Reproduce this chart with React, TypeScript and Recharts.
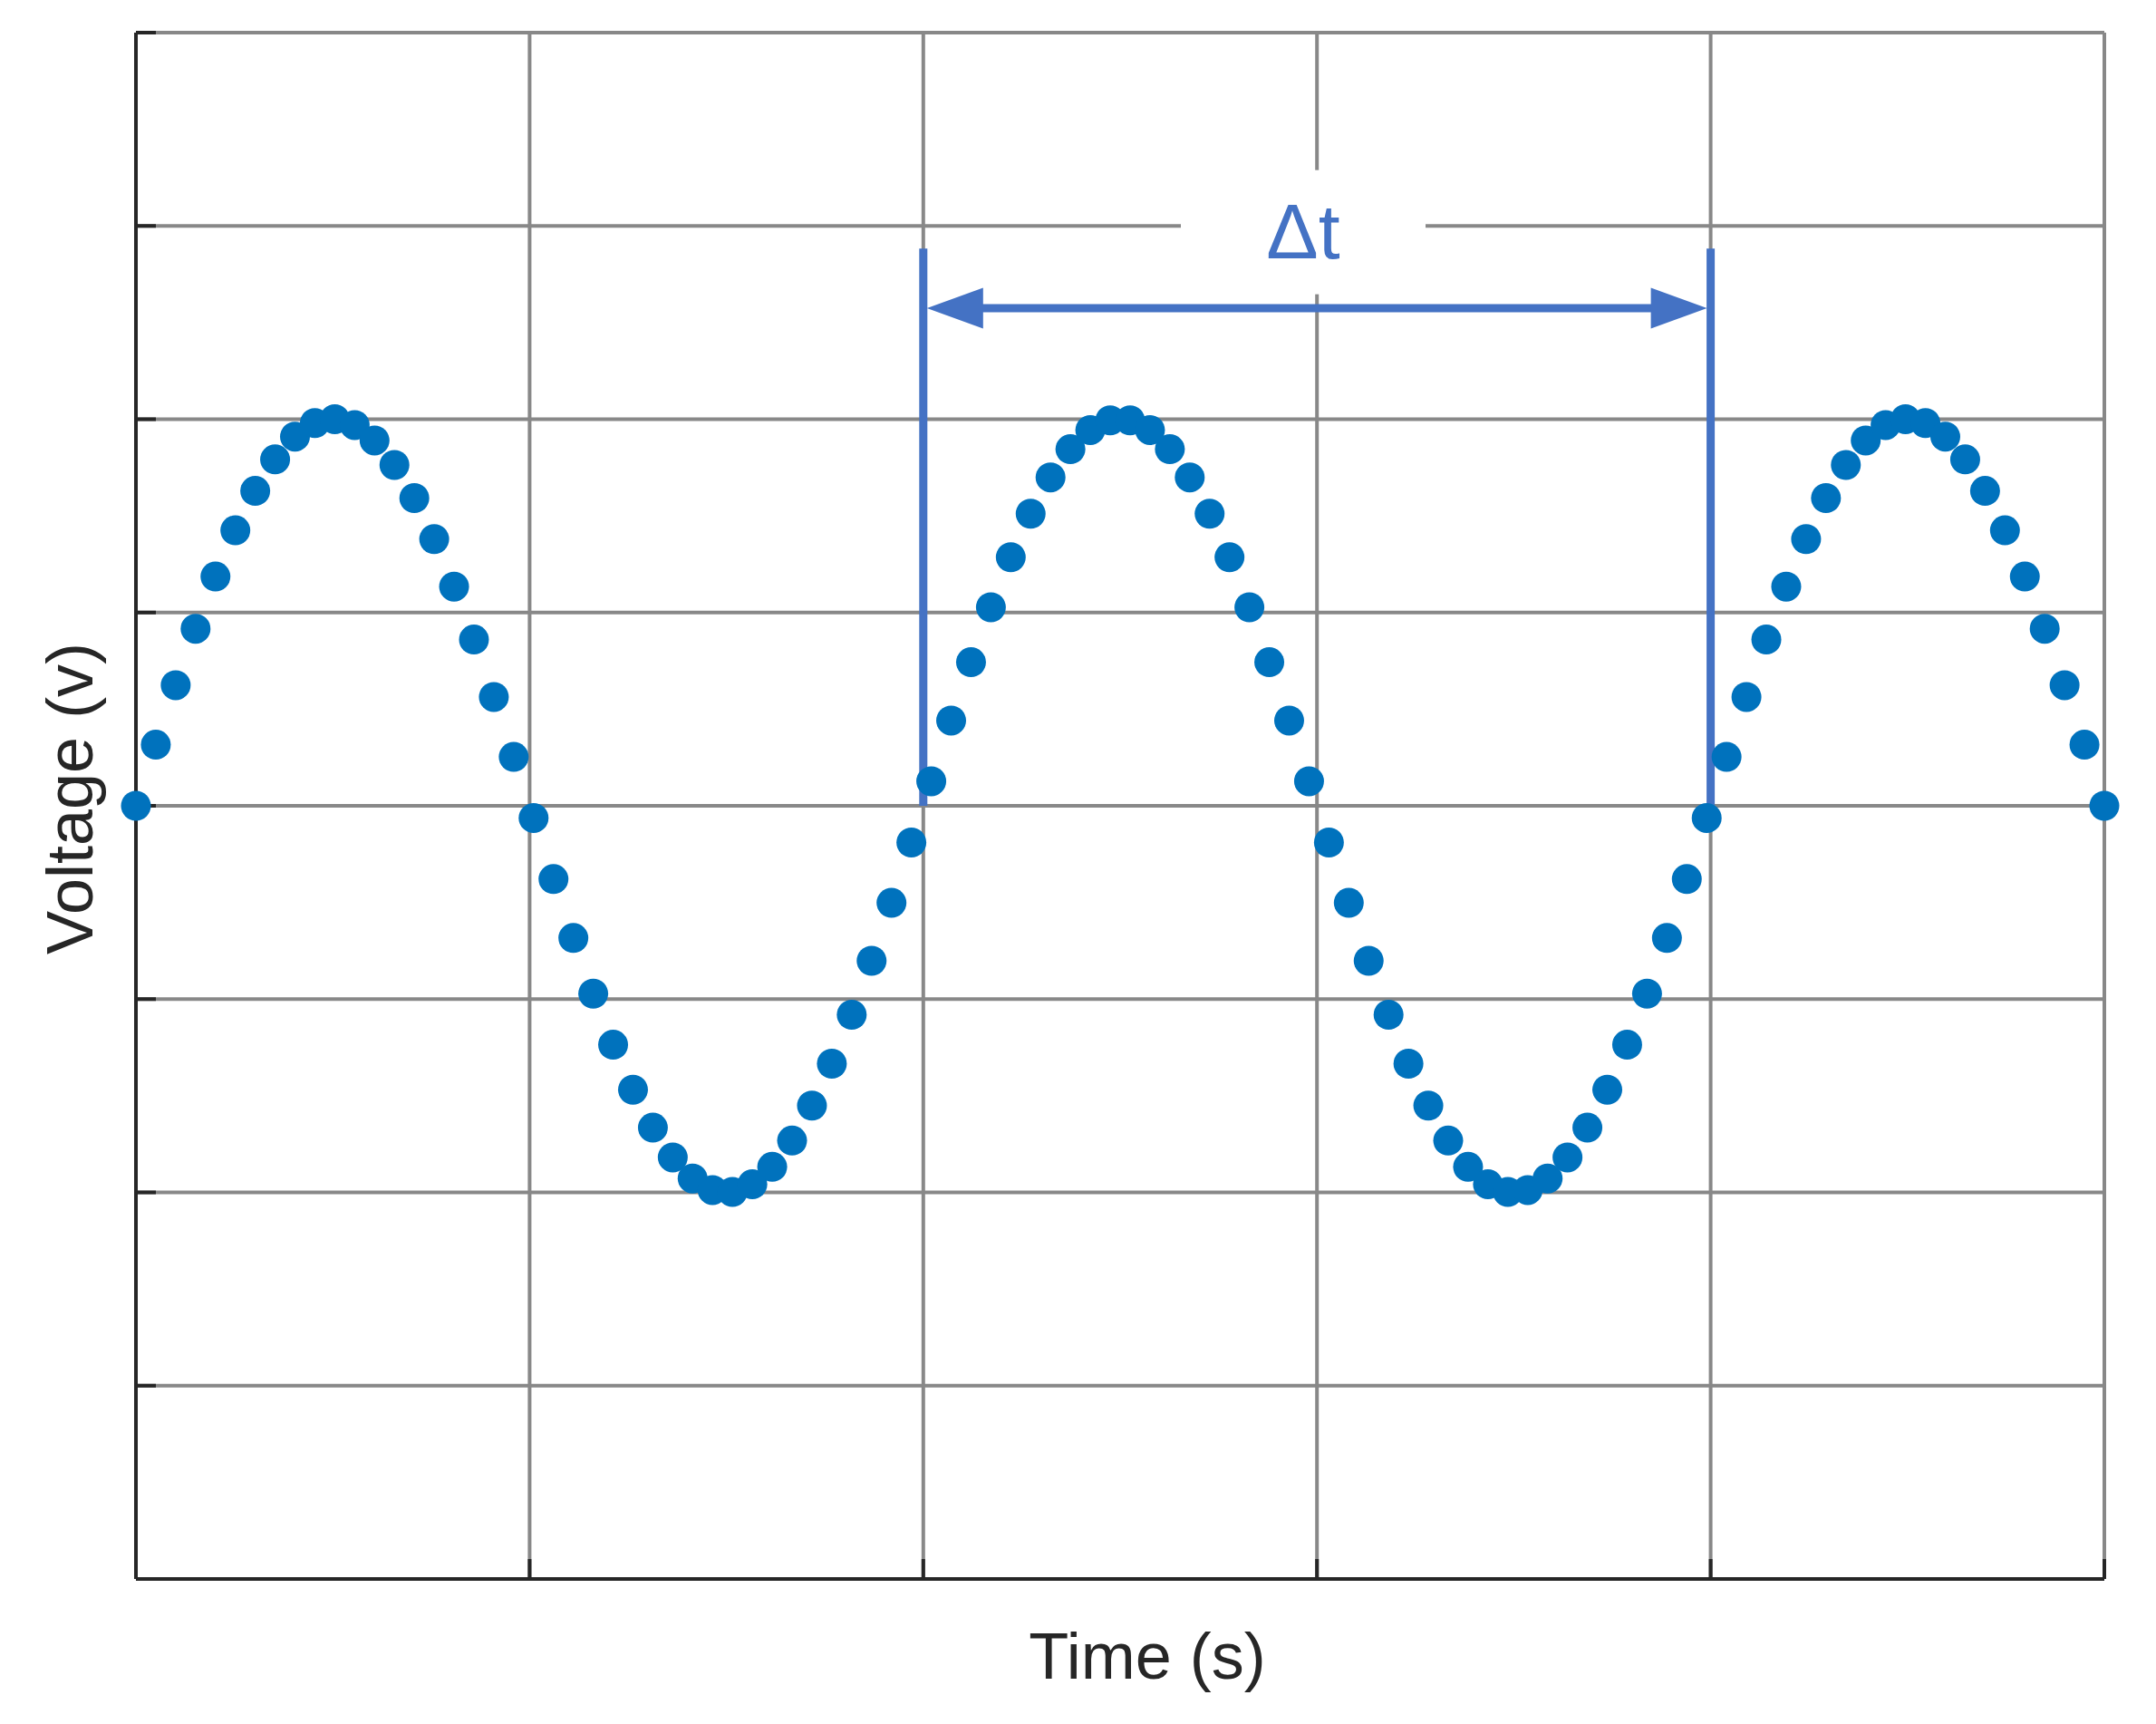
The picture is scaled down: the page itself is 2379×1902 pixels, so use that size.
import {
  ScatterChart,
  Scatter,
  XAxis,
  YAxis,
  CartesianGrid,
  ReferenceLine,
  ReferenceDot,
} from 'recharts';

// sample times (s)
const timeValues = [
  0, 0.0505, 0.101, 0.1515, 0.202, 0.2525, 0.303, 0.3535, 0.404, 0.4545,
  0.5051, 0.5556, 0.6061, 0.6566, 0.7071, 0.7576, 0.8081, 0.8586, 0.9091, 0.9596,
  1.0101, 1.0606, 1.1111, 1.1616, 1.2121, 1.2626, 1.3131, 1.3636, 1.4141, 1.4646,
  1.5152, 1.5657, 1.6162, 1.6667, 1.7172, 1.7677, 1.8182, 1.8687, 1.9192, 1.9697,
  2.0202, 2.0707, 2.1212, 2.1717, 2.2222, 2.2727, 2.3232, 2.3737, 2.4242, 2.4747,
  2.5253, 2.5758, 2.6263, 2.6768, 2.7273, 2.7778, 2.8283, 2.8788, 2.9293, 2.9798,
  3.0303, 3.0808, 3.1313, 3.1818, 3.2323, 3.2828, 3.3333, 3.3838, 3.4343, 3.4848,
  3.5354, 3.5859, 3.6364, 3.6869, 3.7374, 3.7879, 3.8384, 3.8889, 3.9394, 3.9899,
  4.0404, 4.0909, 4.1414, 4.1919, 4.2424, 4.2929, 4.3434, 4.3939, 4.4444, 4.4949,
  4.5455, 4.596, 4.6465, 4.697, 4.7475, 4.798, 4.8485, 4.899, 4.9495, 5,
];

// voltage at each sample (v)
const voltageValues = [
  0, 0.316, 0.624, 0.916, 1.186, 1.425, 1.629, 1.792, 1.91, 1.98,
  2.0, 1.97, 1.89, 1.763, 1.592, 1.38, 1.134, 0.86, 0.563, 0.253,
  -0.063, -0.379, -0.684, -0.972, -1.236, -1.469, -1.665, -1.819, -1.928, -1.988,
  -1.998, -1.958, -1.868, -1.732, -1.551, -1.334, -1.081, -0.802, -0.502, -0.19,
  0.127, 0.441, 0.743, 1.027, 1.286, 1.511, 1.699, 1.845, 1.944, 1.994,
  1.994, 1.944, 1.845, 1.699, 1.511, 1.286, 1.027, 0.743, 0.441, 0.127,
  -0.19, -0.502, -0.802, -1.081, -1.334, -1.551, -1.732, -1.868, -1.958, -1.998,
  -1.988, -1.928, -1.819, -1.665, -1.469, -1.236, -0.972, -0.684, -0.379, -0.063,
  0.253, 0.563, 0.86, 1.134, 1.38, 1.592, 1.763, 1.89, 1.97, 2.0,
  1.98, 1.91, 1.792, 1.629, 1.425, 1.186, 0.916, 0.624, 0.316, 0,
];

const xTicks = [0, 1, 2, 3, 4, 5];
const yTicks = [-4, -3, -2, -1, 0, 1, 2, 3, 4];

// the period marker
const periodStart = 2;
const periodEnd = 4;
const markerTop = 2.883;
const arrowLevel = 2.574;
const labelX = 2.965;
const labelY = 2.97;

const DOT = '#0072BD';
const NOTE = '#4472C4';
const INK = '#262626';
const FONT = '"Liberation Sans", Arial, Helvetica, sans-serif';

const points = timeValues.map((t, i) => ({ t, v: voltageValues[i] }));

const Dot = (props: any) => <circle cx={props.cx} cy={props.cy} r={16.5} fill={DOT} />;

// axes carry no tick labels, only the inward tick marks
const NoLabel = () => <g />;

const Arrow = (props: any) => {
  const { x1, y1, x2 } = props;
  const head = 62;
  const half = 22.5;
  const l = Math.min(x1, x2) + 4;
  const r = Math.max(x1, x2) - 4;
  return (
    <g>
      <line x1={l + head - 2} y1={y1} x2={r - head + 2} y2={y1} stroke={NOTE} strokeWidth={9} />
      <polygon points={`${l},${y1} ${l + head},${y1 - half} ${l + head},${y1 + half}`} fill={NOTE} />
      <polygon points={`${r},${y1} ${r - head},${y1 - half} ${r - head},${y1 + half}`} fill={NOTE} />
    </g>
  );
};

const DeltaLabel = (props: any) => {
  const { cx, cy } = props;
  return (
    <g>
      <rect x={cx - 135} y={cy - 68} width={270} height={137} fill="#ffffff" />
      <text x={cx} y={cy + 29} textAnchor="middle" fontSize={86} fontFamily={FONT} fill={NOTE}>
        Δt
      </text>
    </g>
  );
};

export default function App() {
  return (
    <div style={{ width: 2379, height: 1902, background: '#fff' }}>
      <style>{'body{margin:0;}'}</style>
      <ScatterChart
        width={2379}
        height={1902}
        margin={{ top: 36, right: 57, bottom: 160, left: 150 }}
      >
        <CartesianGrid stroke="#888888" strokeWidth={4} />
        <XAxis
          type="number"
          dataKey="t"
          domain={[0, 5]}
          ticks={xTicks}
          interval={0}
          height={60}
          mirror
          tick={NoLabel}
          tickSize={22}
          axisLine={{ stroke: INK, strokeWidth: 4 }}
          tickLine={{ stroke: INK, strokeWidth: 4 }}
        />
        <YAxis
          type="number"
          dataKey="v"
          domain={[-4, 4]}
          ticks={yTicks}
          interval={0}
          width={60}
          mirror
          tick={NoLabel}
          tickSize={22}
          axisLine={{ stroke: INK, strokeWidth: 4 }}
          tickLine={{ stroke: INK, strokeWidth: 4 }}
        />
        <Scatter data={points} shape={Dot} isAnimationActive={false} />
        <ReferenceLine
          segment={[{ x: periodStart, y: 0 }, { x: periodStart, y: markerTop }]}
          stroke={NOTE}
          strokeWidth={9}
        />
        <ReferenceLine
          segment={[{ x: periodEnd, y: 0 }, { x: periodEnd, y: markerTop }]}
          stroke={NOTE}
          strokeWidth={9}
        />
        <ReferenceLine
          segment={[{ x: periodStart, y: arrowLevel }, { x: periodEnd, y: arrowLevel }]}
          shape={Arrow}
        />
        <ReferenceDot x={labelX} y={labelY} shape={DeltaLabel} />
        <text x={1266} y={1852} textAnchor="middle" fontSize={72} fontFamily={FONT} fill={INK}>
          Time (s)
        </text>
        <text
          x={102}
          y={881}
          transform="rotate(-90 102 881)"
          textAnchor="middle"
          fontSize={72}
          fontFamily={FONT}
          fill={INK}
        >
          Voltage (v)
        </text>
      </ScatterChart>
    </div>
  );
}
